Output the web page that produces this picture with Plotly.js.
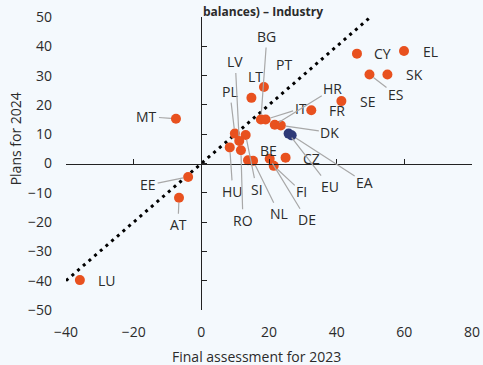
<!DOCTYPE html>
<html>
<head>
<meta charset="utf-8">
<script src="https://cdn.plot.ly/plotly-3.0.1.min.js"></script>
<style>
html,body{margin:0;padding:0;background:#f4f9fd;}
#chart{width:483px;height:365px;}
</style>
</head>
<body>
<div id="chart"></div>
<script>
// ---- data ----
const countries = ['LU','EE','AT','MT','EL','CY','SK','ES','SE','FR','PT','LT','BG','IT','HR','DK','PL','SI','LV','HU','RO','BE','NL','DE','FI','CZ'];
const final2023 = [-35.9,-3.9,-6.6,-7.5,59.9,46.0,55.0,49.7,41.4,32.5,18.5,14.8,17.6,19.0,21.7,23.5,9.9,13.1,11.2,8.4,11.7,13.8,15.3,20.2,21.4,24.9];
const plans2024 = [-39.8,-4.6,-11.7,15.3,38.4,37.5,30.4,30.4,21.3,18.2,26.1,22.4,15.0,15.0,13.2,13.0,10.2,9.7,7.7,5.5,4.5,1.1,0.9,1.6,-0.8,2.0];
const aggregates = ['EU','EA'];
const aggFinal2023 = [25.8,26.7];
const aggPlans2024 = [10.2,9.6];
const xTicks = [-40,-20,0,20,40,60,80];
const yTicks = [-50,-40,-30,-20,-10,0,10,20,30,40,50];
const diagonal = [-40,50];

// ---- label placement (pixel offsets from the point, and whether a leader line is drawn) ----
const labelPos = {
  LU:[27,0,false], EE:[-40,8,true], AT:[-1,27,true], MT:[-29,-2,true],
  EL:[26,1,false], CY:[26,0,false], SK:[27,0,false], ES:[26,20,true],
  SE:[26,0,false], FR:[26,0,false], PT:[20,-23,false], LT:[4,-21,false],
  BG:[6,-83,true], IT:[35,-11,true], HR:[58,-36,true], DK:[49,7,true],
  PL:[-5,-42,true], SI:[11,54,true], LV:[-4,-79,true], HU:[3,44,true],
  RO:[2,70,true], BE:[20,-10,false], NL:[26,53,true], DE:[37,61,true],
  FI:[28,26,true], CZ:[26,1,false], EU:[41,53,true], EA:[73,47,true]
};

const FONT = 'Open Sans, Noto Sans, DejaVu Sans, sans-serif';
const TXT = '#2b2b2b';
const ORANGE = '#e8511f';
const NAVY = '#2e3a78';
const BG = '#f4f9fd';

function makeLabel(name, x, y) {
  const p = labelPos[name];
  const a = {x:x, y:y, xref:'x', yref:'y', text:name,
    font:{family:FONT, size:14, color:TXT}};
  if (p[2]) {
    Object.assign(a, {showarrow:true, ax:p[0], ay:p[1], arrowhead:0,
      arrowwidth:1.2, arrowcolor:'#a8a8a8', standoff:5});
  } else {
    Object.assign(a, {showarrow:false, xshift:p[0], yshift:-p[1]});
  }
  return a;
}

const annotations = [];
countries.forEach((c,i)=>annotations.push(makeLabel(c, final2023[i], plans2024[i])));
aggregates.forEach((c,i)=>annotations.push(makeLabel(c, aggFinal2023[i], aggPlans2024[i])));

// axis titles and chart title
annotations.push({xref:'paper', yref:'paper', x:(257-66)/406.5, y:(310-357)/293.5,
  text:'Final assessment for 2023', showarrow:false, xanchor:'center', yanchor:'middle',
  font:{family:FONT, size:14, color:TXT}});
annotations.push({xref:'paper', yref:'paper', x:(15-66)/406.5, y:(310-139)/293.5,
  text:'Plans for 2024', showarrow:false, textangle:-90, xanchor:'center', yanchor:'middle',
  font:{family:FONT, size:14, color:TXT}});
annotations.push({xref:'paper', yref:'paper', x:(263-66)/406.5, y:(310-0)/293.5,
  text:'<b>balances) – Industry</b>', showarrow:false, xanchor:'center', yanchor:'top',
  font:{family:FONT, size:12, color:TXT}});

const traces = [
  {x:diagonal, y:diagonal, mode:'lines', line:{color:'#000', width:3, dash:'3px,4.5px'},
   hoverinfo:'skip', showlegend:false, cliponaxis:true},
  {x:final2023, y:plans2024, mode:'markers', marker:{color:ORANGE, size:10, line:{width:0}},
   showlegend:false, cliponaxis:false},
  {x:aggFinal2023, y:aggPlans2024, mode:'markers', marker:{color:NAVY, size:10, line:{width:0}},
   showlegend:false, cliponaxis:false},
  {x:[], y:[], xaxis:'x2', yaxis:'y2', showlegend:false}
];

const layout = {
  width:483, height:365,
  margin:{l:66, r:10.5, t:16.5, b:55},
  paper_bgcolor:BG, plot_bgcolor:BG,
  showlegend:false,
  font:{family:FONT, size:14, color:TXT},
  xaxis:{range:[-40,80], tickvals:xTicks, showgrid:false, zeroline:false, showline:false,
    ticks:'', ticklabelstandoff:12, tickfont:{family:FONT, size:14, color:TXT}, fixedrange:true},
  yaxis:{range:[-50,50], tickvals:yTicks, showgrid:false, zeroline:false, showline:false,
    ticks:'', ticklabelstandoff:13, tickfont:{family:FONT, size:14, color:TXT}, fixedrange:true},
  xaxis2:{overlaying:'x', anchor:'free', position:0.5, range:[-40,80], tickvals:xTicks,
    ticks:'inside', ticklen:5, tickcolor:'#222', showticklabels:false, showline:true,
    linecolor:'#222', linewidth:1, showgrid:false, zeroline:false, side:'bottom'},
  yaxis2:{overlaying:'y', anchor:'free', position:1/3, range:[-50,50], tickvals:yTicks,
    ticks:'inside', ticklen:5, tickcolor:'#222', showticklabels:false, showline:true,
    linecolor:'#222', linewidth:1, showgrid:false, zeroline:false, side:'left'},
  annotations:annotations
};

Plotly.newPlot('chart', traces, layout, {displayModeBar:false, staticPlot:true});
</script>
</body>
</html>
